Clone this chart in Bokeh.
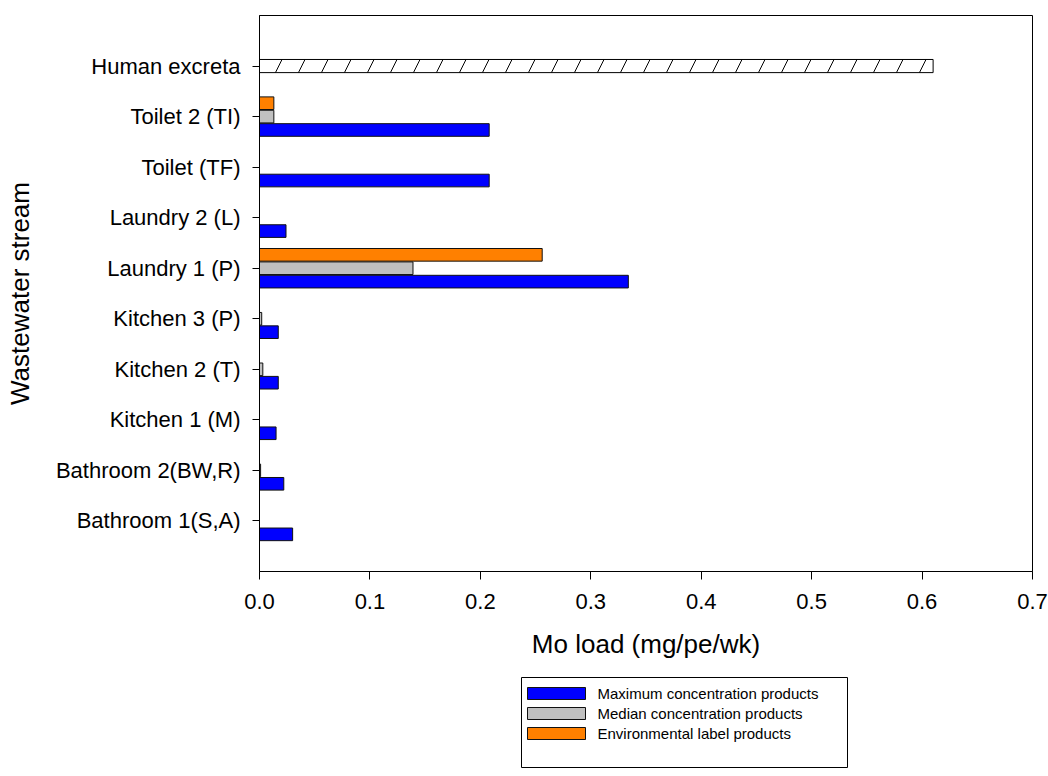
from bokeh.plotting import figure
from bokeh.layouts import column, row, Spacer
from bokeh.models import ColumnDataSource, FixedTicker
from bokeh.core.properties import value
from bokeh.embed import file_html
from bokeh.resources import INLINE

# Mo load per wastewater stream (mg/pe/wk)
streams = ["Bathroom 1(S,A)", "Bathroom 2(BW,R)", "Kitchen 1 (M)", "Kitchen 2 (T)",
           "Kitchen 3 (P)", "Laundry 1 (P)", "Laundry 2 (L)", "Toilet (TF)", "Toilet 2 (TI)"]
max_conc = [0.030, 0.022, 0.015, 0.017, 0.017, 0.334, 0.024, 0.208, 0.208]
median_conc = [0.0, 0.001, 0.0, 0.003, 0.002, 0.139, 0.0, 0.0, 0.013]
env_label = [0.0, 0.0, 0.0, 0.0, 0.0, 0.256, 0.0, 0.0, 0.013]
excreta_label = "Human excreta"
excreta_load = 0.61
x_ticks = [0.0, 0.1, 0.2, 0.3, 0.4, 0.5, 0.6, 0.7]

series_names = ["Maximum concentration products", "Median concentration products",
                "Environmental label products"]
series_colors = ["#0000ff", "#c0c0c0", "#ff8000"]
series_offsets = [-0.265, 0.0, 0.265]
BAR_H = 0.25
OUTLINE = "#111111"
FONT = "Liberation Sans"

positions = list(range(1, len(streams) + 1))
excreta_pos = len(streams) + 1
labels = streams + [excreta_label]

p = figure(width=1048, height=665, x_range=(0, 0.7), y_range=(0, excreta_pos + 1),
           output_backend="svg", toolbar_location=None,
           min_border_left=259, min_border_right=16, min_border_top=15, min_border_bottom=94)

for vals, color, off in zip([max_conc, median_conc, env_label], series_colors, series_offsets):
    ys = [pos + off for pos, v in zip(positions, vals) if v > 0]
    xs = [v for v in vals if v > 0]
    src = ColumnDataSource(dict(y=ys, right=xs))
    p.hbar(y="y", right="right", left=0, height=BAR_H, source=src,
           fill_color=color, line_color=OUTLINE, line_width=1)

exc_src = ColumnDataSource(dict(y=[excreta_pos], right=[excreta_load]))
p.hbar(y="y", right="right", left=0, height=0.26, source=exc_src,
       fill_color="white", line_color="black", line_width=1,
       hatch_pattern="/", hatch_color="black", hatch_scale=46, hatch_weight=1)

# axes and frame
p.xgrid.visible = False
p.ygrid.visible = False
p.outline_line_color = "black"
p.outline_line_alpha = 1
p.outline_line_width = 1

p.xaxis.ticker = FixedTicker(ticks=x_ticks)
p.xaxis.major_label_overrides = {t: f"{t:.1f}" for t in x_ticks}
p.xaxis.axis_label = "Mo load (mg/pe/wk)"
p.yaxis.ticker = FixedTicker(ticks=positions + [excreta_pos])
p.yaxis.major_label_overrides = {pos: lab for pos, lab in zip(positions + [excreta_pos], labels)}
p.yaxis.axis_label = "Wastewater stream"

for ax in (p.xaxis[0], p.yaxis[0]):
    ax.axis_line_color = "black"
    ax.major_tick_line_color = "black"
    ax.minor_tick_line_color = None
    ax.major_tick_in = 0
    ax.major_label_text_font = FONT
    ax.major_label_text_font_size = "22px"
    ax.major_label_text_color = "black"
    ax.axis_label_text_font = FONT
    ax.axis_label_text_font_size = "26px"
    ax.axis_label_text_font_style = "normal"
    ax.axis_label_text_color = "black"

p.xaxis.major_tick_out = 8
p.xaxis.major_label_standoff = 14
p.xaxis.axis_label_standoff = 17
p.yaxis.major_tick_out = 7
p.yaxis.major_label_standoff = 12
p.yaxis.axis_label_standoff = 18

# legend box below the plot: a small pixel-scaled canvas with swatches and labels
LW, LH = 327, 91
leg = figure(width=LW, height=LH, x_range=(0, LW), y_range=(0, LH),
             output_backend="svg", toolbar_location=None, min_border=0)
leg.axis.visible = False
leg.xgrid.visible = False
leg.ygrid.visible = False
leg.outline_line_color = "black"
leg.outline_line_alpha = 1
leg.outline_line_width = 1

row_y = [LH - 16 - 20 * i for i in range(len(series_names))]
sw_src = ColumnDataSource(dict(x=[35] * len(series_names), y=row_y, color=series_colors))
leg.rect(x="x", y="y", width=58, height=12, source=sw_src,
         fill_color="color", line_color=OUTLINE, line_width=1)
lab_src = ColumnDataSource(dict(x=[76] * len(series_names), y=row_y, text=series_names))
leg.text(x="x", y="y", text="text", source=lab_src, text_font=value(FONT),
         text_font_size="15px", text_baseline="middle", text_align="left", text_color="black")

page = column(p, Spacer(height=12), row(Spacer(width=521), leg))
open("out.html", "w").write(file_html(page, INLINE))
